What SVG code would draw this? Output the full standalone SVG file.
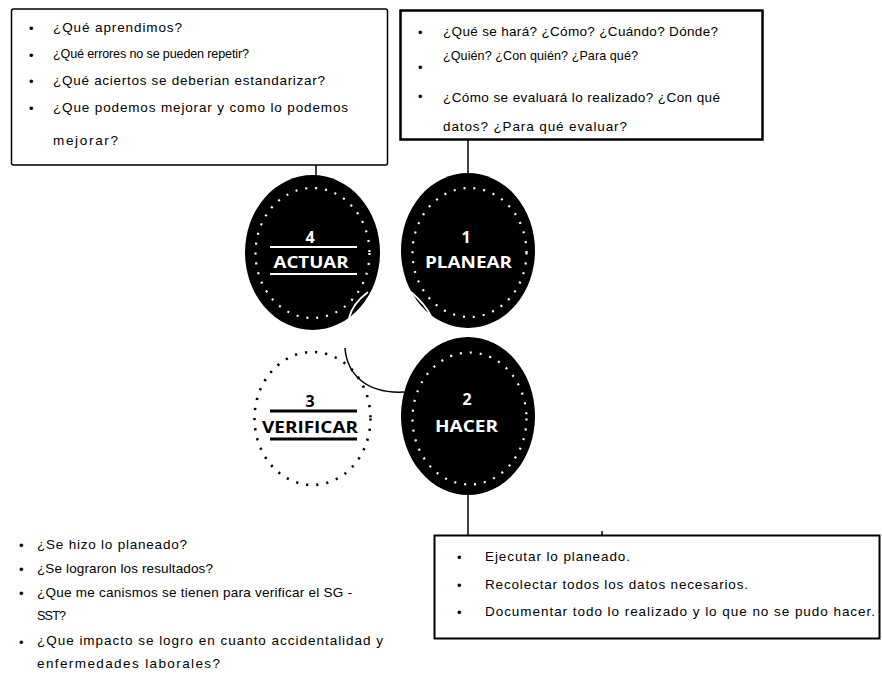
<svg xmlns="http://www.w3.org/2000/svg" width="882" height="690" viewBox="0 0 882 690">
<style>
.t{font-family:"Liberation Sans",Arial,sans-serif;font-size:13.5px;fill:#000}
.s{font-size:12.6px}
.b{font-family:"Liberation Sans",Arial,sans-serif;font-size:13px;fill:#000}
.lbl{font-family:"Open Sans","Noto Sans","Liberation Sans",sans-serif;font-weight:bold;font-size:16px;text-anchor:middle}
.w{fill:#fff}
.k{fill:#000}
.box{fill:#fff;stroke:#000}
.disc{fill:#000}
.ringw{fill:none;stroke:#fff;stroke-width:2.2;stroke-dasharray:2 8}
.ringk{fill:none;stroke:#000;stroke-width:2.6;stroke-dasharray:2.2 8}
.conn{fill:none;stroke:#000;stroke-width:1.5}
</style>
<rect width="882" height="690" fill="#fff"/>

<g id="connectors">
<line class="conn" x1="316" y1="165" x2="316" y2="176"/>
<line class="conn" x1="468" y1="140" x2="468" y2="175"/>
<line class="conn" x1="468" y1="494" x2="468" y2="535"/>
<path class="conn" d="M345,348 C347,374 366,394 404,392" stroke-width="2"/>
<line class="conn" x1="602" y1="531" x2="602" y2="536" stroke-width="1.2"/>
</g>

<g id="box-actuar">
<rect class="box" x="11.5" y="9" width="376" height="156" rx="2" stroke-width="1.5"/>
<text class="b" x="29" y="33">•</text>
<text class="b" x="29" y="60">•</text>
<text class="b" x="29" y="86">•</text>
<text class="b" x="29" y="113">•</text>
<text class="t" x="53" y="32" textLength="129" lengthAdjust="spacing">¿Qué aprendimos?</text>
<text class="t s" x="53" y="58" textLength="196" lengthAdjust="spacing">¿Qué errores no se pueden repetir?</text>
<text class="t" x="53" y="85" textLength="272" lengthAdjust="spacing">¿Qué aciertos se deberian estandarizar?</text>
<text class="t" x="53" y="112" textLength="295" lengthAdjust="spacing">¿Que podemos mejorar y como lo podemos</text>
<text class="t" x="53" y="145" textLength="65" lengthAdjust="spacing">mejorar?</text>
</g>

<g id="box-planear">
<rect class="box" x="400.5" y="10.5" width="362" height="129" stroke-width="2.5"/>
<text class="b" x="418" y="37">•</text>
<text class="b" x="418" y="72">•</text>
<text class="b" x="418" y="101">•</text>
<text class="t" x="443" y="36" textLength="275" lengthAdjust="spacing">¿Qué se hará? ¿Cómo? ¿Cuándo? Dónde?</text>
<text class="t s" x="443" y="60" textLength="195" lengthAdjust="spacing">¿Quién? ¿Con quién? ¿Para qué?</text>
<text class="t" x="443" y="102" textLength="277" lengthAdjust="spacing">¿Cómo se evaluará lo realizado? ¿Con qué</text>
<text class="t" x="443" y="131" textLength="184" lengthAdjust="spacing">datos? ¿Para qué evaluar?</text>
</g>

<g id="node-actuar">
<ellipse class="disc" cx="312.5" cy="252.5" rx="67.5" ry="77.5"/>
<ellipse class="ringw" cx="312.5" cy="253" rx="57" ry="65"/>
<text class="lbl w" x="310" y="243" font-size="15">4</text>
<line x1="270" y1="247" x2="357" y2="247" stroke="#fff" stroke-width="2"/>
<text class="lbl w" x="311" y="268" textLength="75" lengthAdjust="spacingAndGlyphs">ACTUAR</text>
<line x1="270" y1="274" x2="357" y2="274" stroke="#fff" stroke-width="2"/>
<path d="M368,292 C360,298 352,306 349,318" fill="none" stroke="#fff" stroke-width="1.8"/>
</g>

<g id="node-planear">
<ellipse class="disc" cx="468" cy="250.5" rx="67" ry="77.5"/>
<ellipse class="ringw" cx="469.5" cy="252.5" rx="57" ry="64.5"/>
<text class="lbl w" x="466" y="243" font-size="15">1</text>
<text class="lbl w" x="468.5" y="268" textLength="87" lengthAdjust="spacingAndGlyphs">PLANEAR</text>
<path d="M411,292 C418,298 426,306 431,316" fill="none" stroke="#fff" stroke-width="1.8"/>
</g>

<g id="node-verificar">
<ellipse class="ringk" cx="312.5" cy="418.5" rx="58" ry="66.5"/>
<text class="lbl k" x="310" y="407" font-size="15">3</text>
<line x1="270" y1="411" x2="357" y2="411" stroke="#000" stroke-width="3"/>
<text class="lbl k" x="310" y="433" textLength="96" lengthAdjust="spacingAndGlyphs">VERIFICAR</text>
<line x1="270" y1="439" x2="357" y2="439" stroke="#000" stroke-width="3"/>
</g>

<g id="node-hacer">
<ellipse class="disc" cx="468" cy="416" rx="67" ry="79"/>
<ellipse class="ringw" cx="469.5" cy="418.5" rx="57" ry="66"/>
<text class="lbl w" x="467" y="405" font-size="15">2</text>
<text class="lbl w" x="466.5" y="432" textLength="63" lengthAdjust="spacingAndGlyphs">HACER</text>
</g>

<g id="text-verificar">
<text class="b" x="19" y="550">•</text>
<text class="b" x="19" y="574">•</text>
<text class="b" x="19" y="598">•</text>
<text class="b" x="19" y="647">•</text>
<text class="t" x="37" y="549" textLength="150" lengthAdjust="spacing">¿Se hizo lo planeado?</text>
<text class="t" x="37" y="573" textLength="176" lengthAdjust="spacing">¿Se lograron los resultados?</text>
<text class="t" x="37" y="597" textLength="315" lengthAdjust="spacing">¿Que me canismos se tienen para verificar el SG -</text>
<text class="t s" x="37" y="620" textLength="29" lengthAdjust="spacing">SST?</text>
<text class="t" x="37" y="645" textLength="346" lengthAdjust="spacing">¿Que impacto se logro en cuanto accidentalidad y</text>
<text class="t" x="37" y="668" textLength="183" lengthAdjust="spacing">enfermedades laborales?</text>
</g>

<g id="box-hacer">
<rect class="box" x="434.5" y="535.5" width="445" height="103" stroke-width="2"/>
<text class="b" x="457" y="562">•</text>
<text class="b" x="457" y="590">•</text>
<text class="b" x="457" y="617">•</text>
<text class="t" x="485" y="561" textLength="145" lengthAdjust="spacing">Ejecutar lo planeado.</text>
<text class="t" x="485" y="589" textLength="263" lengthAdjust="spacing">Recolectar todos los datos necesarios.</text>
<text class="t" x="485" y="616" textLength="390" lengthAdjust="spacing">Documentar todo lo realizado y lo que no se pudo hacer.</text>
</g>
</svg>
